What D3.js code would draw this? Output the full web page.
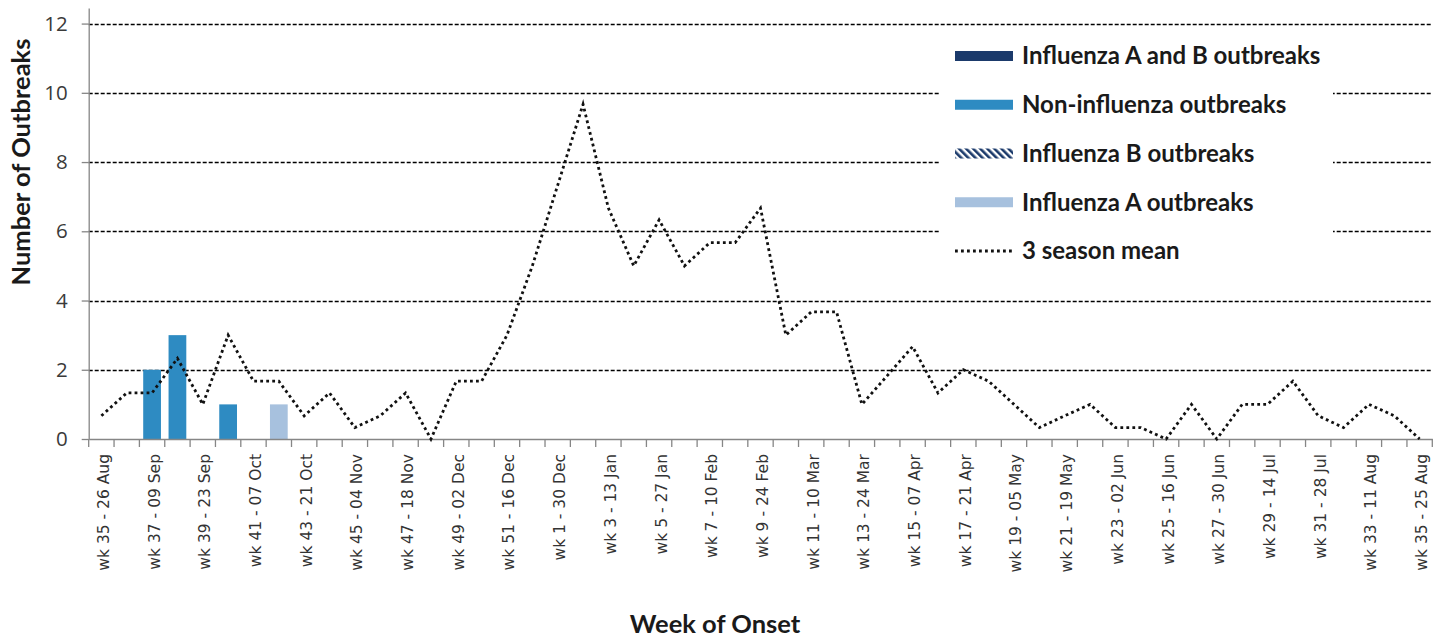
<!DOCTYPE html>
<html>
<head>
<meta charset="utf-8">
<script src="https://cdn.jsdelivr.net/npm/d3@7"></script>
<style>
  body { margin: 0; background: #fff; }
  svg { display: block; }
</style>
</head>
<body>
<svg></svg>
<script>
var width = 1445;
var height = 641;
var plotLeft = 88.7, plotRight = 1432.3, plotTop = 8, plotBottom = 439;

var weeks = ["wk 35 - 26 Aug", "wk 36 - 02 Sep", "wk 37 - 09 Sep", "wk 38 - 16 Sep", "wk 39 - 23 Sep",
  "wk 40 - 30 Sep", "wk 41 - 07 Oct", "wk 42 - 14 Oct", "wk 43 - 21 Oct", "wk 44 - 28 Oct",
  "wk 45 - 04 Nov", "wk 46 - 11 Nov", "wk 47 - 18 Nov", "wk 48 - 25 Nov", "wk 49 - 02 Dec",
  "wk 50 - 09 Dec", "wk 51 - 16 Dec", "wk 52 - 23 Dec", "wk 1 - 30 Dec", "wk 2 - 06 Jan",
  "wk 3 - 13 Jan", "wk 4 - 20 Jan", "wk 5 - 27 Jan", "wk 6 - 03 Feb", "wk 7 - 10 Feb",
  "wk 8 - 17 Feb", "wk 9 - 24 Feb", "wk 10 - 03 Mar", "wk 11 - 10 Mar", "wk 12 - 17 Mar",
  "wk 13 - 24 Mar", "wk 14 - 31 Mar", "wk 15 - 07 Apr", "wk 16 - 14 Apr", "wk 17 - 21 Apr",
  "wk 18 - 28 Apr", "wk 19 - 05 May", "wk 20 - 12 May", "wk 21 - 19 May", "wk 22 - 26 May",
  "wk 23 - 02 Jun", "wk 24 - 09 Jun", "wk 25 - 16 Jun", "wk 26 - 23 Jun", "wk 27 - 30 Jun",
  "wk 28 - 07 Jul", "wk 29 - 14 Jul", "wk 30 - 21 Jul", "wk 31 - 28 Jul", "wk 32 - 04 Aug",
  "wk 33 - 11 Aug", "wk 34 - 18 Aug", "wk 35 - 25 Aug"];

// outbreak counts per week
var fluA = [0,0,0,0,0,0,0,1,0,0, 0,0,0,0,0,0,0,0,0,0, 0,0,0,0,0,0,0,0,0,0,
            0,0,0,0,0,0,0,0,0,0, 0,0,0,0,0,0,0,0,0,0, 0,0,0];
var fluB = [0,0,0,0,0,0,0,0,0,0, 0,0,0,0,0,0,0,0,0,0, 0,0,0,0,0,0,0,0,0,0,
            0,0,0,0,0,0,0,0,0,0, 0,0,0,0,0,0,0,0,0,0, 0,0,0];
var nonFlu = [0,0,2,3,0,1,0,0,0,0, 0,0,0,0,0,0,0,0,0,0, 0,0,0,0,0,0,0,0,0,0,
              0,0,0,0,0,0,0,0,0,0, 0,0,0,0,0,0,0,0,0,0, 0,0,0];
var fluAB = [0,0,0,0,0,0,0,0,0,0, 0,0,0,0,0,0,0,0,0,0, 0,0,0,0,0,0,0,0,0,0,
             0,0,0,0,0,0,0,0,0,0, 0,0,0,0,0,0,0,0,0,0, 0,0,0];

// 3 season mean
var seasonMean = [0.67,1.33,1.33,2.33,1.0,3.0,1.67,1.67,0.67,1.33,
                  0.33,0.67,1.33,0,1.67,1.67,3.0,5.0,7.33,9.67,
                  6.67,5.0,6.33,5.0,5.67,5.67,6.67,3.0,3.67,3.67,
                  1.0,1.83,2.67,1.33,2.0,1.67,1.0,0.33,0.67,1.0,
                  0.33,0.33,0,1.0,0,1.0,1.0,1.67,0.67,0.33,
                  1.0,0.67,0];

var yTicks = [0, 2, 4, 6, 8, 10, 12];

var legendItems = [
  {label: "Influenza A and B outbreaks", key: "fluAB"},
  {label: "Non-influenza outbreaks", key: "nonFlu"},
  {label: "Influenza B outbreaks", key: "fluB"},
  {label: "Influenza A outbreaks", key: "fluA"},
  {label: "3 season mean", key: "mean"}
];

var colors = {fluA: "#a7c1de", fluB: "url(#hatch)", nonFlu: "#2e8bc2", fluAB: "#1b3a6b"};

var table = weeks.map((w, i) => ({week: w, fluA: fluA[i], fluB: fluB[i], nonFlu: nonFlu[i], fluAB: fluAB[i]}));
var stacked = d3.stack().keys(["fluA", "fluB", "nonFlu", "fluAB"])(table);

var xScale = d3.scaleBand().domain(weeks).range([plotLeft, plotRight]).padding(0);
var yScale = d3.scaleLinear().domain([0, 12.45]).range([plotBottom, plotTop]);

var svg = d3.select("svg")
    .attr("width", width)
    .attr("height", height);

var defs = svg.append("defs");
var pat = defs.append("pattern")
    .attr("id", "hatch")
    .attr("patternUnits", "userSpaceOnUse")
    .attr("width", 5)
    .attr("height", 5)
    .attr("patternTransform", "rotate(-45)");
pat.append("rect").attr("width", 5).attr("height", 5).attr("fill", "#fff");
pat.append("rect").attr("width", 2.6).attr("height", 5).attr("fill", "#1b3a6b");

// gridlines
svg.append("g")
    .selectAll("line")
    .data(yTicks.filter(d => d > 0))
    .enter()
    .append("line")
    .attr("x1", plotLeft)
    .attr("x2", plotRight)
    .attr("y1", d => Math.round(yScale(d)) + 0.5)
    .attr("y2", d => Math.round(yScale(d)) + 0.5)
    .attr("stroke", "#000")
    .attr("stroke-width", 1.3)
    .attr("stroke-dasharray", "4,2");

// bars
svg.append("g")
    .selectAll("g")
    .data(stacked)
    .enter()
    .append("g")
    .attr("fill", d => colors[d.key])
    .selectAll("rect")
    .data(d => d.filter(p => p[1] > p[0]))
    .enter()
    .append("rect")
    .attr("x", d => xScale(d.data.week) + xScale.step() * 0.15)
    .attr("width", xScale.step() * 0.7)
    .attr("y", d => yScale(d[1]))
    .attr("height", d => yScale(d[0]) - yScale(d[1]));

// y axis
var yAxis = d3.axisLeft(yScale)
    .tickValues(yTicks)
    .tickSize(7)
    .tickSizeOuter(0)
    .tickPadding(14);

var yG = svg.append("g")
    .attr("transform", `translate(${plotLeft},0)`)
    .call(yAxis);
yG.select(".domain").attr("stroke", "#868686").attr("stroke-width", 1.3);
yG.selectAll(".tick line").attr("stroke", "#868686").attr("stroke-width", 1.3);
yG.selectAll(".tick text")
    .attr("fill", "#3a3a3a")
    .style("font-family", "'Open Sans', sans-serif")
    .style("font-size", "20.5px");

// x axis
var xAxis = d3.axisBottom(xScale)
    .tickValues(weeks.filter((d, i) => i % 2 === 0))
    .tickSize(0)
    .tickSizeOuter(0);

var xG = svg.append("g")
    .attr("transform", `translate(0,${plotBottom})`)
    .call(xAxis);
xG.select(".domain").attr("stroke", "#868686").attr("stroke-width", 1.3);
xG.selectAll(".tick text")
    .attr("transform", "translate(2,15) rotate(-90)")
    .attr("x", 0)
    .attr("y", 0)
    .attr("dy", "0.35em")
    .style("text-anchor", "end")
    .attr("fill", "#333")
    .style("font-family", "'DejaVu Sans', sans-serif")
    .style("font-size", "15.5px");

// boundary tick marks
xG.append("g")
    .selectAll("line")
    .data(weeks.concat(["end"]))
    .enter()
    .append("line")
    .attr("x1", (d, i) => plotLeft + i * xScale.step())
    .attr("x2", (d, i) => plotLeft + i * xScale.step())
    .attr("y1", 0)
    .attr("y2", 8)
    .attr("stroke", "#868686")
    .attr("stroke-width", 1.3);

// 3 season mean line
var line = d3.line()
    .x((d, i) => xScale(weeks[i]) + xScale.bandwidth() / 2)
    .y(d => yScale(d));

svg.append("path")
    .datum(seasonMean)
    .attr("d", line)
    .attr("fill", "none")
    .attr("stroke", "#111")
    .attr("stroke-width", 2.8)
    .attr("stroke-dasharray", "2.8,3.2");

// legend
var legend = svg.append("g");
legend.append("rect")
    .attr("x", 940)
    .attr("y", 32)
    .attr("width", 393)
    .attr("height", 242)
    .attr("fill", "#fff");

var rowY = d3.scalePoint().domain(legendItems.map(d => d.key)).range([56, 251]);

var items = legend.selectAll(".item")
    .data(legendItems)
    .enter()
    .append("g")
    .attr("class", "item")
    .attr("transform", d => `translate(955,${rowY(d.key)})`);

items.filter(d => d.key !== "mean")
    .append("rect")
    .attr("x", 0)
    .attr("y", -5)
    .attr("width", 58)
    .attr("height", 10)
    .attr("fill", d => colors[d.key]);

items.filter(d => d.key === "mean")
    .append("line")
    .attr("x1", 0)
    .attr("x2", 58)
    .attr("stroke", "#111")
    .attr("stroke-width", 2.8)
    .attr("stroke-dasharray", "2.8,3.2");

items.append("text")
    .attr("x", 67)
    .attr("dy", "0.35em")
    .attr("fill", "#1a1a1a")
    .style("font-family", "Lato, sans-serif")
    .style("font-weight", "bold")
    .style("font-size", "24px")
    .text(d => d.label);

// axis titles
svg.append("text")
    .attr("transform", "rotate(-90)")
    .attr("x", -162)
    .attr("y", 30)
    .style("text-anchor", "middle")
    .style("font-family", "Lato, sans-serif")
    .style("font-weight", "bold")
    .style("font-size", "25.5px")
    .attr("fill", "#1a1a1a")
    .text("Number of Outbreaks");

svg.append("text")
    .attr("x", 715)
    .attr("y", 633)
    .style("text-anchor", "middle")
    .style("font-family", "Lato, sans-serif")
    .style("font-weight", "bold")
    .style("font-size", "25.5px")
    .attr("fill", "#1a1a1a")
    .text("Week of Onset");
</script>
</body>
</html>
